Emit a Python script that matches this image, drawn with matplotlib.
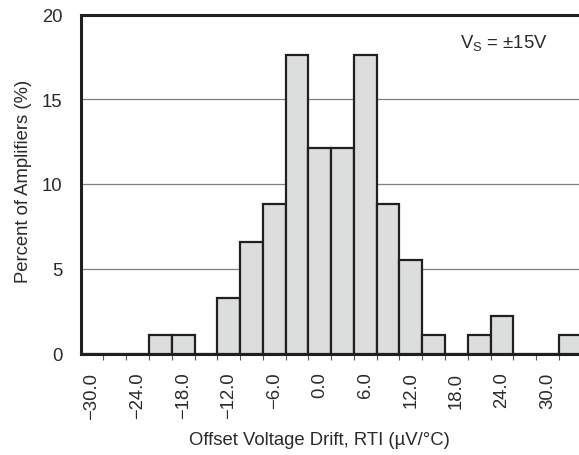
import numpy as np
import matplotlib
matplotlib.use('Agg')
from matplotlib import pyplot as plt

plt.rcParams['font.family'] = ['Liberation Sans', 'DejaVu Sans']
plt.rcParams['mathtext.fontset'] = 'custom'
plt.rcParams['mathtext.rm'] = 'Liberation Sans'

# bin centres (uV/C) and percent of amplifiers
centres = [-30, -27, -24, -21, -18, -15, -12, -9, -6, -3, 0, 3, 6, 9, 12, 15, 18, 21, 24, 27, 30, 33]
percent = [0, 0, 0, 1.1, 1.1, 0, 3.3, 6.6, 8.8, 17.6, 12.1, 12.1, 17.6, 8.8, 5.5, 1.1, 0, 1.1, 2.2, 0, 0, 1.1]
tick_vals = [-30, -24, -18, -12, -6, 0, 6, 12, 18, 24, 30]
tick_labels = ['\u221230.0', '\u221224.0', '\u221218.0', '\u221212.0', '\u22126.0',
               '0.0', '6.0', '12.0', '18.0', '24.0', '30.0']

fs = 13.3
txt = '#2a2a2a'

fig = plt.figure(figsize=(5.79, 4.56), dpi=100)
ax = fig.add_axes([80.7/579, 1 - 354.5/456, 1 - 80.7/579, (354.5 - 15.5)/456])

ax.bar(centres, percent, width=3, color='#dcdddd', edgecolor='#231f20', linewidth=1.6, zorder=3)

ax.set_xlim(-31.5, 34.15)
ax.set_ylim(0, 20)
ax.set_yticks([0, 5, 10, 15, 20])
ax.yaxis.grid(True, color='#808080', linewidth=0.9)
ax.set_axisbelow(True)

ax.set_xticks(tick_vals)
ax.set_xticklabels(tick_labels, rotation=90)
ax.set_xticks(np.arange(-28.5, 34, 3), minor=True)
ax.tick_params(axis='x', which='major', length=0, pad=13, labelsize=fs, colors=txt)
ax.tick_params(axis='x', which='minor', length=4, width=0.8, color='#555555', direction='out')
ax.tick_params(axis='y', length=0, pad=13, labelsize=fs, colors=txt)

for s in ['left', 'top', 'bottom']:
    ax.spines[s].set_linewidth(2.2)
    ax.spines[s].set_color('#231f20')
ax.spines['right'].set_visible(False)

ax.set_xlabel('Offset Voltage Drift, RTI (\u00b5V/\u00b0C)', fontsize=fs, color=txt)
ax.set_ylabel('Percent of Amplifiers (%)', fontsize=fs, color=txt)
ax.xaxis.set_label_coords(0.48, -0.228)
ax.yaxis.set_label_coords(-0.097, 0.51)

ax.text(460/579, 1 - 43/456, 'V$_\\mathrm{S}$ = \u00b115V', transform=fig.transFigure,
        fontsize=fs, va='center', ha='left', color=txt)

fig.savefig('out.png', dpi=100)
